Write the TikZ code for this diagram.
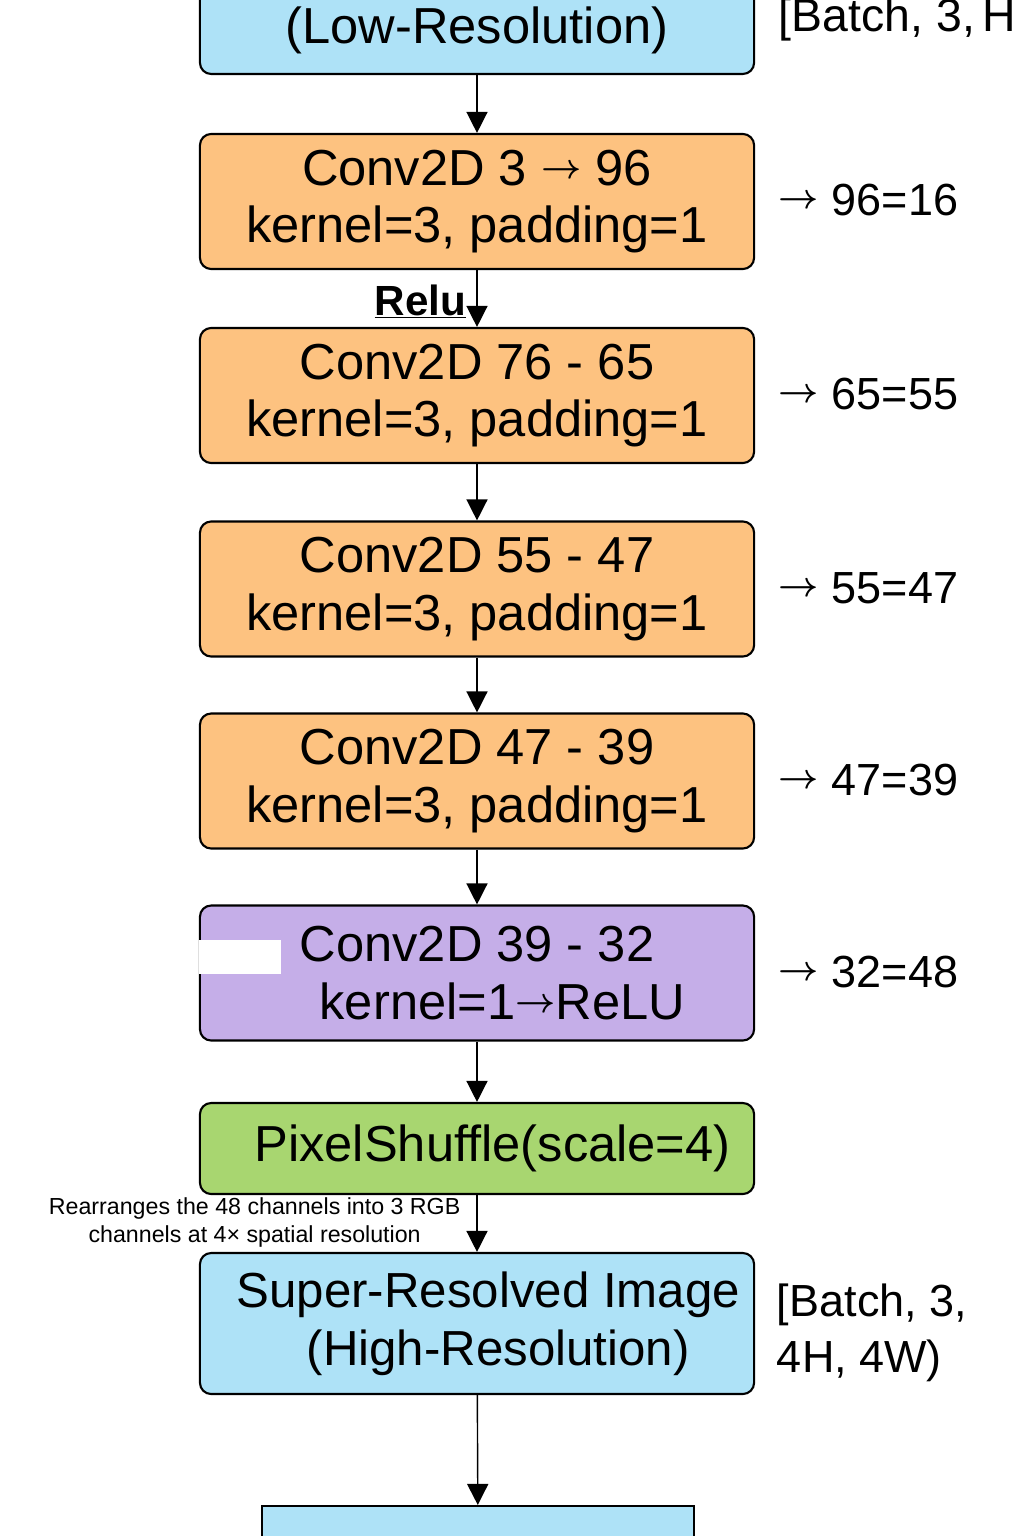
\documentclass[tikz,border=0pt]{standalone}
\usepackage{fontspec}
\setmainfont{Liberation Sans}
\usetikzlibrary{arrows.meta}

\definecolor{inblue}{RGB}{174,226,247}
\definecolor{convorange}{RGB}{253,194,128}
\definecolor{convpurple}{RGB}{197,174,232}
\definecolor{shufflegreen}{RGB}{168,214,112}

\newcommand{\sarr}{{\fontsize{27}{27}\selectfont\boldmath\raisebox{5pt}{$\rightarrow$}}}

\begin{document}
\begin{tikzpicture}[x=0.025cm,y=-0.025cm,
    layer/.style={draw,rounded corners=8pt,line width=1.5pt,minimum width=13.85cm,
      minimum height=3.375cm,align=center,font=\fontsize{36}{41}\selectfont},
    shapenote/.style={anchor=west,align=left,font=\fontsize{32}{40}\selectfont},
    flow/.style={-{Triangle[length=15pt,width=15pt]},line width=1pt}]

      \useasboundingbox (0,0) rectangle (1024,1536);

      % layers
      \node[layer,fill=inblue,minimum height=2.2cm] (lr) at (477,30) {(Low-Resolution)};
      \node[layer,fill=convorange] (c1) at (477,201.5) {Conv2D 3 \sarr\ 96\\kernel=3, padding=1};
      \node[layer,fill=convorange] (c2) at (477,395.5) {Conv2D 76 - 65\\kernel=3, padding=1};
      \node[layer,fill=convorange] (c3) at (477,589) {Conv2D 55 - 47\\kernel=3, padding=1};
      \node[layer,fill=convorange] (c4) at (477,781) {Conv2D 47 - 39\\kernel=3, padding=1};
      \node[layer,fill=convpurple] (c5) at (477,973) {Conv2D 39 - 32\\\hspace*{36pt}kernel=1\sarr ReLU};
      \fill[white] (199,940) rectangle (281,974);
      \node[layer,fill=shufflegreen,minimum height=2.275cm] (ps) at (477,1148.5) {\hspace*{22pt}PixelShuffle(scale=4)};
      \node[layer,fill=inblue,minimum height=3.525cm,font=\fontsize{35}{41}\selectfont] (hr) at (477,1323.5)
        {\hspace*{16pt}Super-Resolved Image\\\hspace*{30pt}(High-Resolution)};
      \node[draw,fill=inblue,line width=1.5pt,minimum width=10.8cm,minimum height=2cm,anchor=north] (out) at (478,1505) {};

      % shapes on the right
      \node[shapenote,font=\fontsize{33}{40}\selectfont] (sin) at (774,20) {[Batch, 3,\,H};
      \node[shapenote] (s1) at (774,200) {\sarr\ 96=16};
      \node[shapenote] (s2) at (774,394) {\sarr\ 65=55};
      \node[shapenote] (s3) at (774,588) {\sarr\ 55=47};
      \node[shapenote] (s4) at (774,780) {\sarr\ 47=39};
      \node[shapenote] (s5) at (774,972) {\sarr\ 32=48};
      \node[shapenote,font=\fontsize{32}{40}\selectfont] (sout) at (772,1333) {[Batch, 3,\\4H, 4W)};

      \begin{scope}[every edge/.style={draw,flow}]
        \path (lr) edge (c1);
        \path (c1) edge node[left,pos=.55,xshift=-4pt,font=\fontsize{30}{32}\bfseries] (relu) {\underline{Relu}} (c2);
        \path (c2) edge (c3);
        \path (c3) edge (c4);
        \path (c4) edge (c5);
        \path (c5) edge (ps);
        \path (ps) edge node[left,pos=.48,align=center,font=\fontsize{16.5}{20}\selectfont,xshift=-8pt] (shufnote)
          {Rearranges the 48 channels into 3 RGB\\channels at 4× spatial resolution} (hr);
        \path (hr) edge (out);
      \end{scope}

    \end{tikzpicture}
\end{document}
